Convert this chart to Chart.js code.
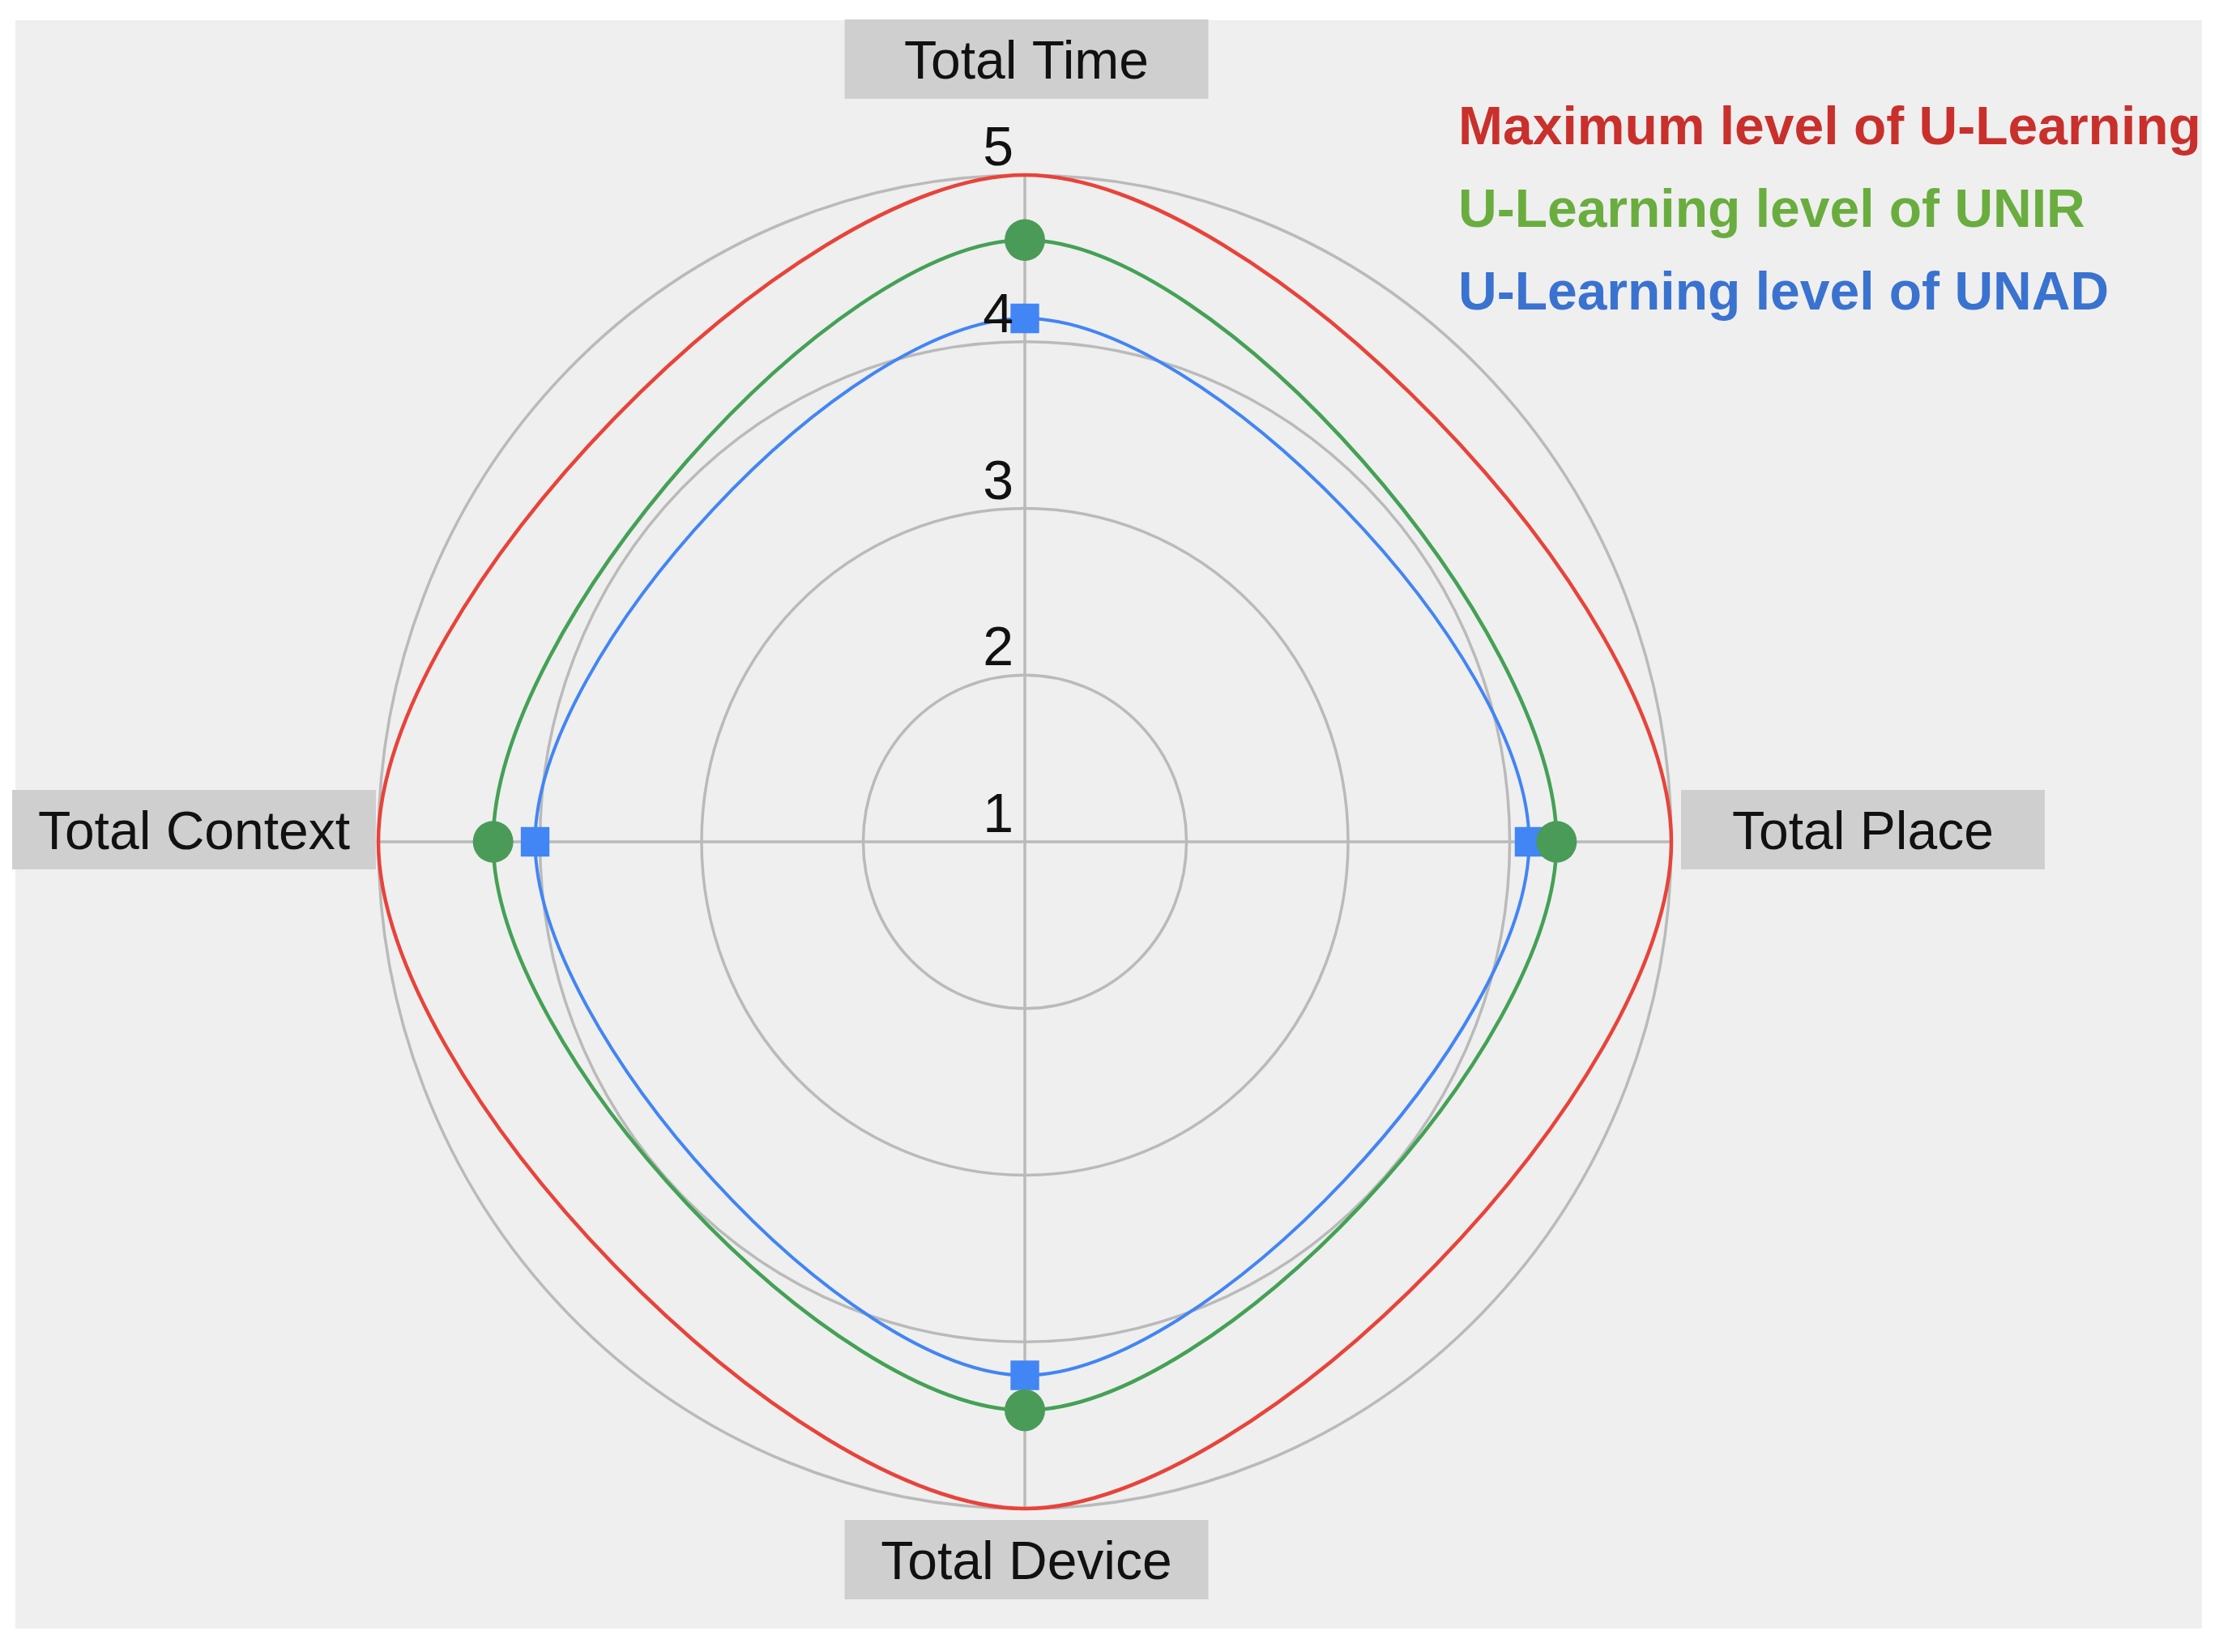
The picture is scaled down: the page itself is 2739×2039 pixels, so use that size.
<!DOCTYPE html>
<html>
<head>
<meta charset="utf-8">
<title>U-Learning radar</title>
<script src="https://cdn.jsdelivr.net/npm/chart.js@4.4.1/dist/chart.umd.min.js"></script>
<style>
  html, body { margin: 0; padding: 0; background: #fff; }
  #wrap { width: 2739px; height: 2039px; }
</style>
</head>
<body>
<div id="wrap"><canvas id="radar"></canvas></div>
<script>
'use strict';

// ===== data ===== //
var axisLabels = ['Total Time', 'Total Place', 'Total Device', 'Total Context'];
var seriesNames = ['Maximum level of U-Learning', 'U-Learning level of UNIR', 'U-Learning level of UNAD'];
var maxLevel = [5, 5, 5, 5];
var unirLevel = [4.61, 4.29, 4.41, 4.29];
var unadLevel = [4.14, 4.12, 4.20, 4.03];
var tickValues = [1, 2, 3, 4, 5];

// colours
var lineColors = ['#e8433a', '#44a155', '#4285f4'];
var legendColors = ['#c9302c', '#6aad3f', '#3a72d0'];

// the original is a little taller than it is wide
var stretchY = 823 / 798;

// background, vertical stretch and all the text around the radar
var decorations = {
  id: 'decorations',
  beforeDraw: function(chart) {
    var ctx = chart.ctx;
    var r = chart.scales.r;
    ctx.save();
    ctx.fillStyle = '#ffffff';
    ctx.fillRect(0, 0, chart.width, chart.height);
    ctx.fillStyle = '#efefef';
    ctx.fillRect(19, 25, 2699, 1985);
    ctx.restore();

    ctx.save();
    ctx.translate(0, r.yCenter);
    ctx.scale(1, stretchY);
    ctx.translate(0, -r.yCenter);
  },
  afterDatasetsDraw: function(chart) {
    chart.ctx.restore();
  },
  afterDraw: function(chart) {
    var ctx = chart.ctx;
    var r = chart.scales.r;
    var cx = r.xCenter, cy = r.yCenter;
    var outerX = r.drawingArea;
    var outerY = r.drawingArea * stretchY;

    ctx.save();

    // tick numbers, left of the vertical axis
    ctx.fillStyle = '#111';
    ctx.font = '68px "Liberation Sans", Arial, sans-serif';
    ctx.textAlign = 'right';
    ctx.textBaseline = 'alphabetic';
    tickValues.forEach(function(v) {
      var d = r.getDistanceFromCenterForValue(v) * stretchY;
      ctx.fillText(String(v), cx - 14, cy - d - 12);
    });

    // axis titles in grey boxes
    var boxW = 449, boxH = 98;
    var boxes = [
      {x: cx + 2 - boxW / 2, y: cy - outerY - 94 - boxH},
      {x: cx + outerX + 12, y: cy - 15 - boxH / 2},
      {x: cx + 2 - boxW / 2, y: cy + outerY + 14},
      {x: cx - outerX - 3 - boxW, y: cy - 15 - boxH / 2}
    ];
    ctx.font = '66px "Liberation Sans", Arial, sans-serif';
    ctx.textAlign = 'center';
    axisLabels.forEach(function(label, i) {
      var b = boxes[i];
      ctx.fillStyle = '#cfcfcf';
      ctx.fillRect(b.x, b.y, boxW, boxH);
      ctx.fillStyle = '#111';
      ctx.fillText(label, b.x + boxW / 2, b.y + 73);
    });

    // legend, coloured text only
    ctx.font = 'bold 66px "Liberation Sans", Arial, sans-serif';
    ctx.textAlign = 'left';
    seriesNames.forEach(function(name, i) {
      ctx.fillStyle = legendColors[i];
      ctx.fillText(name, 1800, 178 + i * 102);
    });

    ctx.restore();
  }
};

var ctx = document.getElementById('radar').getContext('2d');
var chart = new Chart(ctx, {
  type: 'radar',
  data: {
    labels: axisLabels,
    datasets: [
      {
        label: seriesNames[0],
        data: maxLevel,
        borderColor: lineColors[0],
        borderWidth: 4.5,
        pointRadius: 0,
        fill: false
      },
      {
        label: seriesNames[1],
        data: unirLevel,
        borderColor: lineColors[1],
        backgroundColor: lineColors[1],
        borderWidth: 4.5,
        pointStyle: 'circle',
        pointRadius: 25,
        pointBackgroundColor: '#4a9b58',
        pointBorderWidth: 0,
        fill: false
      },
      {
        label: seriesNames[2],
        data: unadLevel,
        borderColor: lineColors[2],
        backgroundColor: lineColors[2],
        borderWidth: 4,
        pointStyle: 'rect',
        pointRadius: 25,
        pointBackgroundColor: lineColors[2],
        pointBorderWidth: 0,
        fill: false
      }
    ]
  },
  options: {
    responsive: true,
    maintainAspectRatio: false,
    animation: false,
    elements: { line: { tension: 0.36 } },
    layout: { padding: { left: 467, right: 676, top: 241, bottom: 202 } },
    plugins: {
      legend: { display: false },
      tooltip: { enabled: false }
    },
    scales: {
      r: {
        min: 1,
        max: 5,
        ticks: { stepSize: 1, display: false },
        grid: { color: '#bababa', lineWidth: 3.5, circular: true },
        angleLines: { color: '#bababa', lineWidth: 3.5 },
        pointLabels: { display: false }
      }
    }
  },
  plugins: [decorations]
});
</script>
</body>
</html>
